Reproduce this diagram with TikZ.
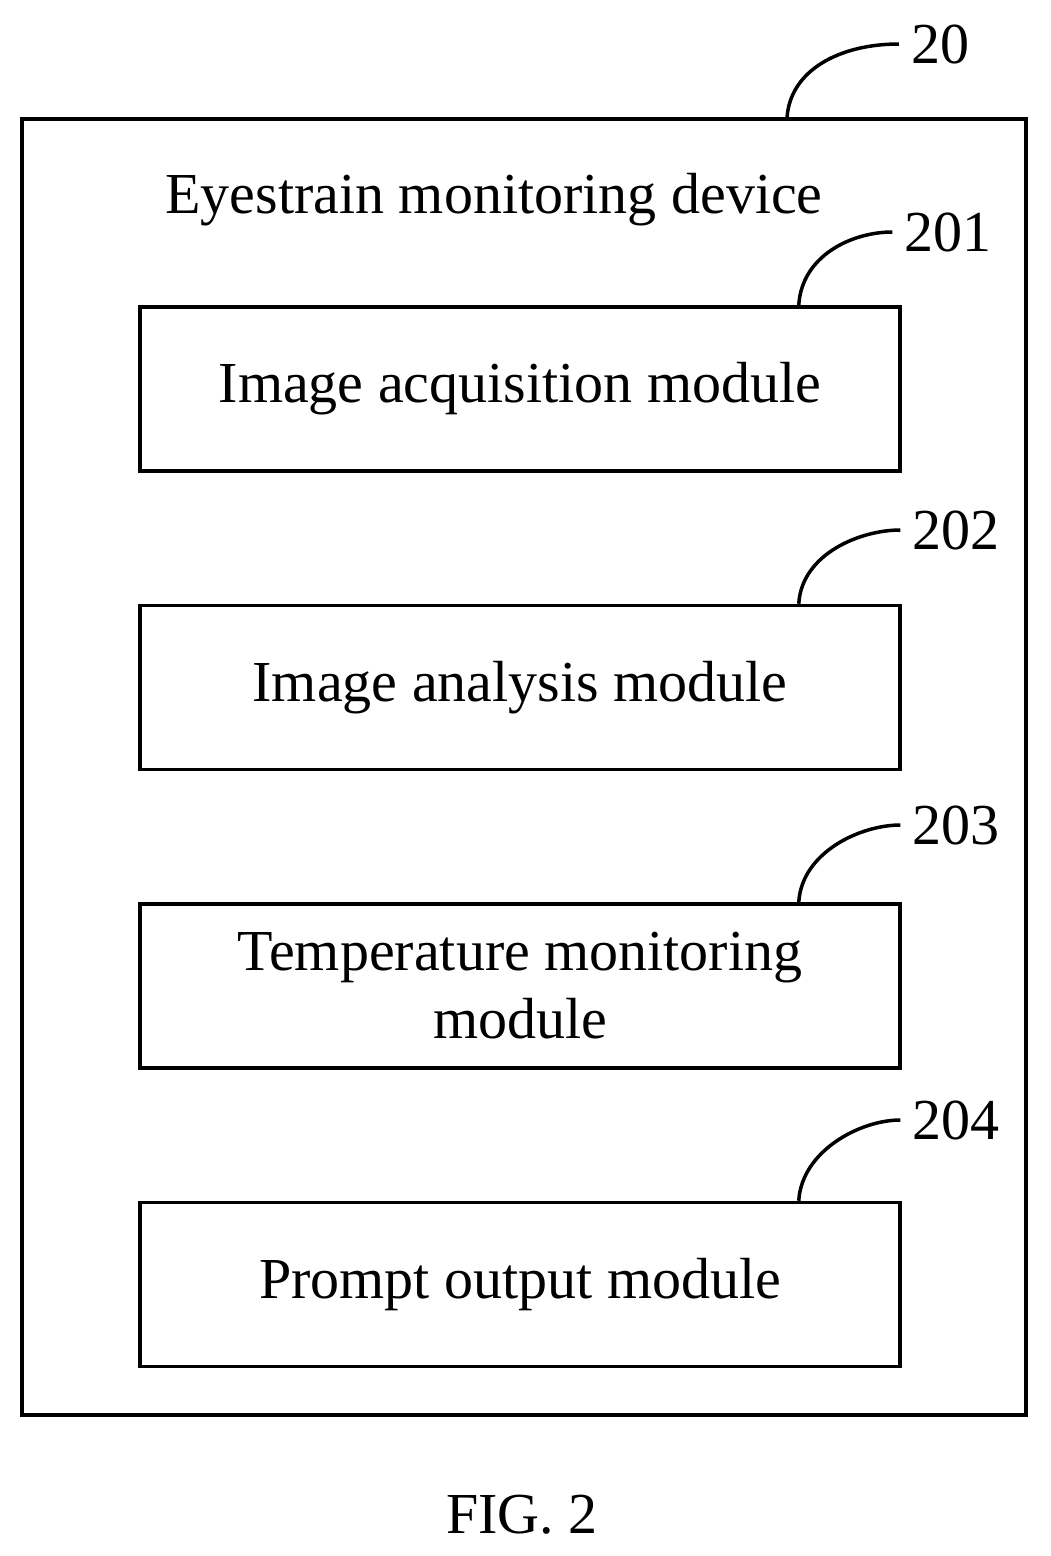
\documentclass[tikz,border=0pt]{standalone}
\usepackage{fontspec}
\setmainfont{Liberation Serif}
\usetikzlibrary{positioning}

\begin{document}
\begin{tikzpicture}[
            x=1pt, y=-1pt,
            font=\fontsize{58}{68}\selectfont,
            module/.style={rectangle, draw, line width=3.5pt, minimum width=760pt, minimum height=164pt, inner sep=0pt, align=center},
            leader/.style={line width=3.5pt}
        ]
        \useasboundingbox (0,0) rectangle (1050,1556);

        % Device frame and title
        \node[rectangle, draw, line width=3.5pt, minimum width=1004pt, minimum height=1296pt, inner sep=0pt] (device) at (524,767) {};
        \node (title) at (494,200) {Eyestrain monitoring device};

        % Modules
        \node[module] (acq) at (520,389) {Image acquisition module};
        \node[module, below=131pt of acq] (ana) {Image analysis module};
        \node[module, below=131pt of ana] (temp) {Temperature monitoring\\module};
        \node[module, below=131pt of temp] (prompt) {Prompt output module};

        % Reference numerals
        \node[inner sep=12pt] (n20) at (940,44) {20};
        \node[inner sep=12pt] (n201) at (948,232) {201};
        \node[inner sep=12pt] (n202) at (956,530) {202};
        \node[inner sep=12pt] (n203) at (956,825) {203};
        \node[inner sep=12pt] (n204) at (956,1120) {204};

        % Leader curves
        \draw[leader] (787,118) .. controls (790,70) and (840,44) .. (n20.west);
        \draw[leader] (acq.north east) ++(-103,0) .. controls +(3,-50) and +(-40,0) .. (n201.west);
        \draw[leader] (ana.north east) ++(-103,0) .. controls +(3,-50) and +(-40,0) .. (n202.west);
        \draw[leader] (temp.north east) ++(-103,0) .. controls +(3,-50) and +(-40,0) .. (n203.west);
        \draw[leader] (prompt.north east) ++(-103,0) .. controls +(3,-50) and +(-40,0) .. (n204.west);

        % Caption
        \node (fig) at (522,1515) {FIG. 2};
    \end{tikzpicture}
\end{document}
